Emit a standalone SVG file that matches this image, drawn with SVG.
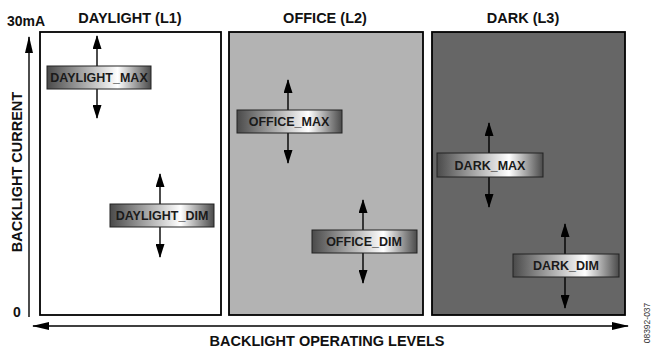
<svg xmlns="http://www.w3.org/2000/svg" width="652" height="352" viewBox="0 0 652 352">
<style>
  .t{font-family:"Liberation Sans",Arial,sans-serif;font-weight:bold;fill:#111}
  .title{font-size:14.5px;text-anchor:middle}
  .lbl{font-size:12.5px;text-anchor:middle;fill:#1a1a1a}
  .panel{stroke:#000;stroke-width:1.8}
  .box{fill:url(#g);stroke:#222;stroke-width:1}
  .ar{stroke:#000;stroke-width:1.4;fill:none;marker-start:url(#ah);marker-end:url(#ah)}
  .ax{stroke:#000;stroke-width:1.4;fill:none}
</style>
<defs>
  <linearGradient id="g" x1="0" y1="0" x2="1" y2="0">
    <stop offset="0" stop-color="#4a4a4a"/>
    <stop offset="0.68" stop-color="#ffffff"/>
    <stop offset="1" stop-color="#4a4a4a"/>
  </linearGradient>
  <marker id="ah" markerUnits="userSpaceOnUse" markerWidth="14" markerHeight="9" refX="13" refY="4.5" orient="auto-start-reverse" viewBox="0 0 14 9">
    <path d="M0,0 L14,4.5 L0,9 z" fill="#000"/>
  </marker>
  <marker id="ax" markerUnits="userSpaceOnUse" markerWidth="17" markerHeight="8" refX="16" refY="4" orient="auto-start-reverse" viewBox="0 0 17 8">
    <path d="M0,0 L17,4 L0,8 z" fill="#000"/>
  </marker>
</defs>
<rect width="652" height="352" fill="#fff"/>

<g id="panel-daylight">
  <rect class="panel" x="40" y="32" width="181" height="283" fill="#fff"/>
  <text class="t title" x="130" y="23">DAYLIGHT (L1)</text>
</g>
<g id="panel-office">
  <rect class="panel" x="229" y="32" width="194" height="283" fill="#b3b3b3"/>
  <text class="t title" x="325" y="23">OFFICE (L2)</text>
</g>
<g id="panel-dark">
  <rect class="panel" x="432" y="32" width="193" height="283" fill="#666666"/>
  <text class="t title" x="523" y="23">DARK (L3)</text>
</g>

<g id="axes">
  <line class="ax" x1="29" y1="317" x2="29" y2="37" marker-end="url(#ax)"/>
  <line class="ax" x1="33" y1="326" x2="628" y2="326" marker-start="url(#ax)" marker-end="url(#ax)"/>
  <text class="t" x="7" y="26" font-size="14">30mA</text>
  <text class="t" x="13" y="317" font-size="14">0</text>
  <text class="t" font-size="14.5" text-anchor="middle" transform="translate(21.5,172) rotate(-90)">BACKLIGHT CURRENT</text>
  <text class="t title" x="327" y="346">BACKLIGHT OPERATING LEVELS</text>
  <text x="0" y="0" font-family="'Liberation Sans Narrow','Liberation Sans',Arial,sans-serif" font-size="8.5" fill="#333" text-anchor="middle" transform="translate(650,323) rotate(-90)">08392-037</text>
</g>

<g id="connectors">
  <line class="ar" x1="97" y1="36" x2="97" y2="118"/>
  <line class="ar" x1="160" y1="174" x2="160" y2="257"/>
  <line class="ar" x1="288" y1="80" x2="288" y2="163"/>
  <line class="ar" x1="363" y1="200" x2="363" y2="283"/>
  <line class="ar" x1="489" y1="123" x2="489" y2="207"/>
  <line class="ar" x1="565" y1="224" x2="565" y2="308"/>
</g>

<g id="daylight-max">
  <rect class="box" x="47" y="66" width="104" height="23"/>
  <text class="t lbl" x="99" y="82">DAYLIGHT_MAX</text>
</g>
<g id="daylight-dim">
  <rect class="box" x="110" y="204" width="104" height="23"/>
  <text class="t lbl" x="162" y="220">DAYLIGHT_DIM</text>
</g>
<g id="office-max">
  <rect class="box" x="237" y="110" width="105" height="23"/>
  <text class="t lbl" x="289" y="126">OFFICE_MAX</text>
</g>
<g id="office-dim">
  <rect class="box" x="312" y="230" width="105" height="23"/>
  <text class="t lbl" x="364" y="246">OFFICE_DIM</text>
</g>
<g id="dark-max">
  <rect class="box" x="437" y="153" width="106" height="24"/>
  <text class="t lbl" x="490" y="170">DARK_MAX</text>
</g>
<g id="dark-dim">
  <rect class="box" x="513" y="254" width="106" height="23"/>
  <text class="t lbl" x="566" y="270">DARK_DIM</text>
</g>
</svg>
